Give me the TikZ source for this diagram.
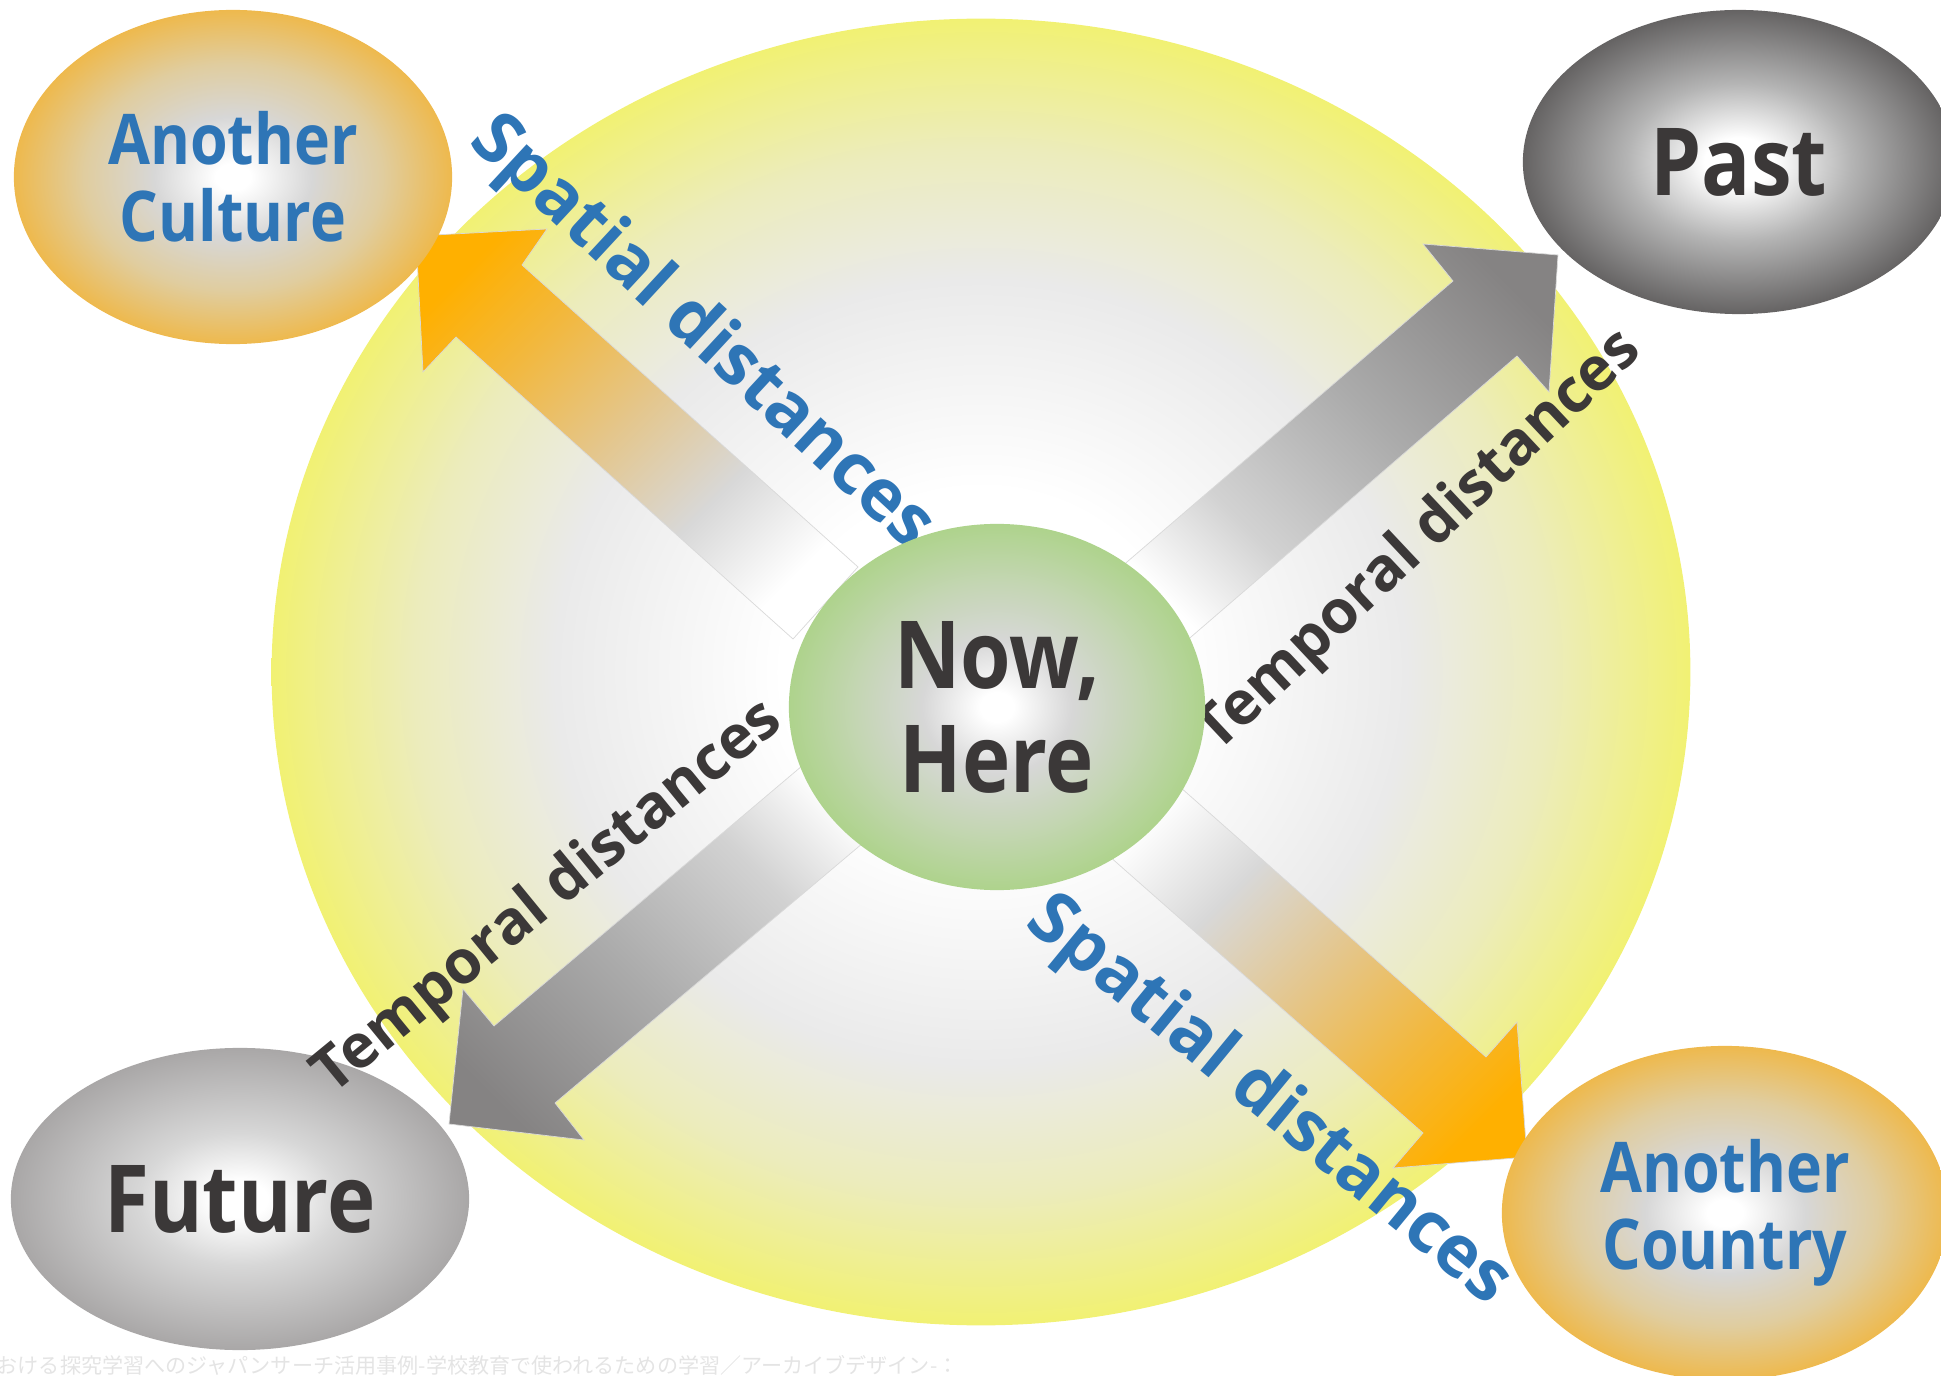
\documentclass[tikz,border=0pt]{standalone}
\usepackage{fontspec}
\setmainfont{Open Sans}
\newfontfamily\nodefont{Open Sans}[FakeStretch=0.87]
\newfontfamily\jpfont{Noto Sans CJK JP}
\usetikzlibrary{shapes.geometric}

\definecolor{sunyellow}{HTML}{F1F173}
\definecolor{fieldgrey}{HTML}{EAEAEA}
\definecolor{fieldmix}{HTML}{ECECBC}
\definecolor{orangeedge}{HTML}{EEB94D}
\definecolor{orangemid}{HTML}{E0CD9F}
\definecolor{coregrey}{HTML}{D7D7D7}
\definecolor{pastedge}{HTML}{656363}
\definecolor{pastmid}{HTML}{B4B4B4}
\definecolor{futureedge}{HTML}{A9A7A7}
\definecolor{nowedge}{HTML}{AED38C}
\definecolor{nowmid}{HTML}{C4D6B3}
\definecolor{orangetip}{HTML}{FFB000}
\definecolor{orangeshaft}{HTML}{F2B83E}
\definecolor{shafttan}{HTML}{E4C68C}
\definecolor{shaftgrey}{HTML}{D8D8D8}
\definecolor{shaftlight}{HTML}{D2D2D2}
\definecolor{shaftmid}{HTML}{ABABAB}
\definecolor{greytip}{HTML}{858383}
\definecolor{labelblue}{HTML}{2E75B6}
\definecolor{labeldark}{HTML}{3B3838}
\definecolor{captiongrey}{HTML}{E4E4E4}

\pgfdeclareradialshading{sunshade}{\pgfpointorigin}{color(0bp)=(white); color(7bp)=(white); color(15bp)=(fieldgrey); color(20bp)=(fieldmix); color(25bp)=(sunyellow); color(50bp)=(sunyellow)}
\pgfdeclareradialshading{orangeglow}{\pgfpointorigin}{color(0bp)=(white); color(2bp)=(white); color(9bp)=(coregrey); color(17bp)=(orangemid); color(25bp)=(orangeedge); color(50bp)=(orangeedge)}
\pgfdeclareradialshading{pastglow}{\pgfpointorigin}{color(0bp)=(white); color(4bp)=(white); color(13bp)=(pastmid); color(25bp)=(pastedge); color(50bp)=(pastedge)}
\pgfdeclareradialshading{futureglow}{\pgfpointorigin}{color(0bp)=(white); color(3bp)=(white); color(11bp)=(coregrey); color(25bp)=(futureedge); color(50bp)=(futureedge)}
\pgfdeclareradialshading{nowglow}{\pgfpointorigin}{color(0bp)=(white); color(2bp)=(white); color(9bp)=(coregrey); color(17bp)=(nowmid); color(25bp)=(nowedge); color(50bp)=(nowedge)}
\pgfdeclarehorizontalshading{spatialshade}{100bp}{color(0bp)=(white); color(25bp)=(white); color(38bp)=(shaftgrey); color(52bp)=(shafttan); color(66bp)=(orangeshaft); color(78bp)=(orangetip); color(100bp)=(orangetip)}
\pgfdeclarehorizontalshading{temporalshade}{100bp}{color(0bp)=(white); color(22bp)=(white); color(35bp)=(shaftlight); color(55bp)=(shaftmid); color(78bp)=(greytip); color(100bp)=(greytip)}

\tikzset{
  place/.style={ellipse, shade, inner sep=0pt, align=center},
  spaceplace/.style={place, shading=orangeglow, text=labelblue, font=\nodefont\bfseries\fontsize{19.9}{21.9}\selectfont},
  timeplace/.style={place, text=labeldark, font=\nodefont\bfseries\fontsize{26.7}{29.6}\selectfont},
  spatialarrow/.style={shade, shading=spatialshade, draw=gray!30, line width=0.2pt},
  temporalarrow/.style={shade, shading=temporalshade, draw=gray!30, line width=0.2pt},
  spatiallabel/.style={text=labelblue, inner sep=0pt, font=\bfseries\fontsize{20.3}{20.3}\selectfont},
  temporallabel/.style={text=labeldark, inner sep=0pt, font=\bfseries\fontsize{17.2}{17.2}\selectfont},
}

\begin{document}
\begin{tikzpicture}[x=0.01cm, y=-0.01cm]
\useasboundingbox (0,0) rectangle (1941,1376);
\clip (0,0) rectangle (1941,1376);
\node[ellipse, shade, shading=sunshade, minimum width=14.18cm, minimum height=13.06cm] (field) at (981,672) {};
\path[spatialarrow, shading angle=135] (858,567) -- (522,265) -- (547,229) -- (416,236) -- (423,372) -- (456,337) -- (793,639) -- cycle;
\path[spatialarrow, shading angle=-45] (1146,757) -- (1486,1057) -- (1517,1022) -- (1527,1157) -- (1393,1168) -- (1423,1133) -- (1083,833) -- cycle;
\path[temporalarrow, shading angle=45] (1120,568) -- (1453,281) -- (1423,244) -- (1558,255) -- (1549,392) -- (1517,356) -- (1184,643) -- cycle;
\path[temporalarrow, shading angle=225] (815,755) -- (494,1026) -- (463,989) -- (449,1124) -- (584,1140) -- (555,1103) -- (876,832) -- cycle;
\node[spaceplace, minimum width=4.38cm, minimum height=3.34cm] (culture) at (233,177) {Another\\Culture};
\node[timeplace, shading=pastglow, minimum width=4.32cm, minimum height=3.04cm] (past) at (1739,162) {Past};
\node[timeplace, shading=futureglow, minimum width=4.58cm, minimum height=3.02cm] (future) at (240,1199) {Future};
\node[spaceplace, minimum width=4.46cm, minimum height=3.34cm] (country) at (1725,1213) {Another\\Country};
\node[spatiallabel, rotate=-42.8] (spaceup) at (701,334) {Spatial distances};
\node[spatiallabel, rotate=-39.4] (spacedown) at (1268,1102) {Spatial distances};
\node[temporallabel, rotate=43.2] (timeup) at (1420,542) {Temporal distances};
\node[temporallabel, rotate=39.3] (timedown) at (549,898) {Temporal distances};
\node[timeplace, shading=nowglow, minimum width=4.16cm, minimum height=3.66cm] (now) at (997,707) {Now,\\Here};
\node[anchor=base west, inner sep=0pt, text=captiongrey, font=\jpfont\fontsize{6}{6}\selectfont] (caption) at (-4,1373) {おける探究学習へのジャパンサーチ活用事例-学校教育で使われるための学習／アーカイブデザイン-：};
\end{tikzpicture}
\end{document}
